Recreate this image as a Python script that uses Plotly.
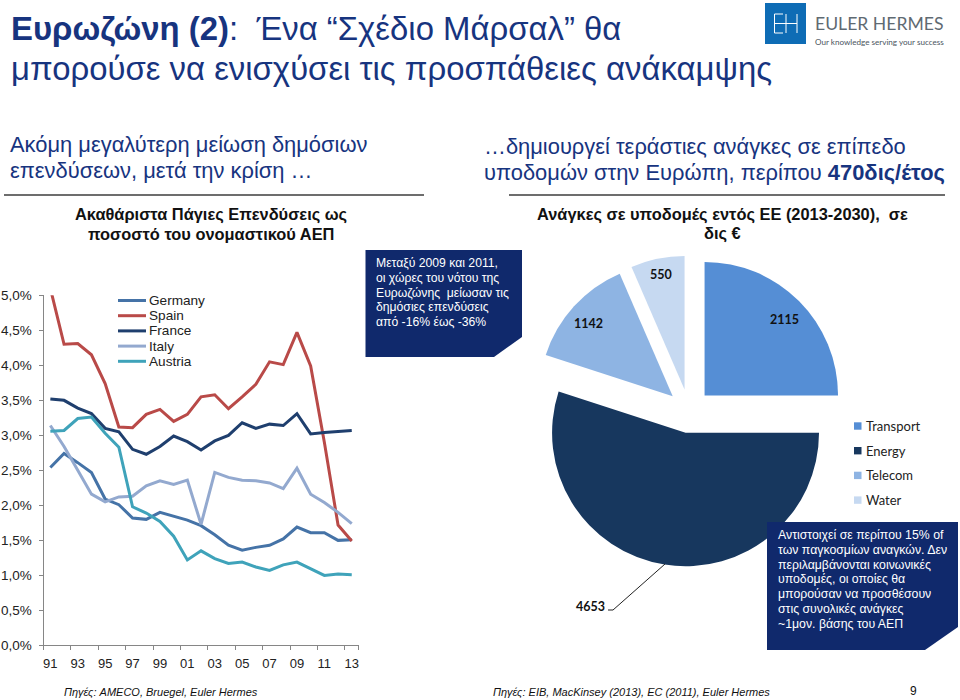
import plotly.graph_objects as go

# gross fixed investment, % of GDP
years = list(range(1991, 2014))
germany = [2.54, 2.74, 2.61, 2.47, 2.09, 2.01, 1.82, 1.80, 1.90, 1.85, 1.79, 1.71, 1.58, 1.43, 1.36, 1.40, 1.43, 1.52, 1.69, 1.61, 1.61, 1.50, 1.51]
spain = [5.10, 4.30, 4.31, 4.15, 3.74, 3.12, 3.11, 3.30, 3.37, 3.20, 3.30, 3.55, 3.58, 3.38, 3.55, 3.73, 4.05, 4.01, 4.47, 3.99, 2.90, 1.72, 1.49]
france = [3.52, 3.50, 3.39, 3.31, 3.10, 3.05, 2.80, 2.73, 2.84, 2.99, 2.91, 2.79, 2.92, 3.00, 3.18, 3.10, 3.16, 3.14, 3.31, 3.02, 3.04, 3.06, 3.07]
italy = [3.14, 2.84, 2.50, 2.16, 2.05, 2.12, 2.13, 2.28, 2.35, 2.30, 2.36, 1.73, 2.47, 2.40, 2.36, 2.35, 2.32, 2.24, 2.53, 2.16, 2.04, 1.90, 1.74]
austria = [3.06, 3.07, 3.24, 3.26, 3.03, 2.83, 1.98, 1.89, 1.77, 1.56, 1.22, 1.35, 1.24, 1.17, 1.19, 1.12, 1.07, 1.15, 1.19, 1.10, 1.00, 1.02, 1.01]
line_names = ["Germany", "Spain", "France", "Italy", "Austria"]
line_colors = ["#4573A7", "#B94A48", "#1F3F6E", "#93A9CF", "#3FA3BA"]

y_ticks = [0, 0.5, 1, 1.5, 2, 2.5, 3, 3.5, 4, 4.5, 5]
y_labels = ["0,0%", "0,5%", "1,0%", "1,5%", "2,0%", "2,5%", "3,0%", "3,5%", "4,0%", "4,5%", "5,0%"]
x_labels = ["91", "93", "95", "97", "99", "01", "03", "05", "07", "09", "11", "13"]

# infrastructure needs, bn euro
pie_names = ["Transport", "Energy", "Telecom", "Water"]
pie_values = [2115, 4653, 1142, 550]
pie_colors = ["#558ED5", "#17375E", "#8EB4E3", "#C6D9F1"]

ARIAL = "Liberation Sans"
NAVY = "#10296C"
TITLE_BLUE = "#17347F"


def px(x):
    return x / 960


def py(y):
    return 1 - y / 700


def text(s, x, y, size, color="#111111", anchor="left", family=ARIAL):
    return dict(text=s, x=px(x), y=py(y), xref="paper", yref="paper", showarrow=False,
                xanchor=anchor, yanchor="middle", borderpad=0,
                font=dict(size=size, color=color, family=family))


def poly(points, color):
    path = "M " + " L ".join(f"{px(a):.5f} {py(b):.5f}" for a, b in points) + " Z"
    return dict(type="path", path=path, xref="paper", yref="paper",
                fillcolor=color, line=dict(width=0), layer="above")


def seg(x0, y0, x1, y1, color, width):
    return dict(type="line", x0=px(x0), y0=py(y0), x1=px(x1), y1=py(y1), xref="paper", yref="paper",
                line=dict(color=color, width=width), layer="above")


fig = go.Figure()
for name, vals, color in zip(line_names, [germany, spain, france, italy, austria], line_colors):
    fig.add_trace(go.Scatter(x=years, y=vals, name=name, mode="lines",
                             line=dict(color=color, width=3), showlegend=False))

fig.add_trace(go.Pie(labels=pie_names, values=pie_values, sort=False, direction="clockwise", rotation=0,
                     marker=dict(colors=pie_colors, line=dict(width=0)), pull=[0.165] * 4,
                     textinfo="none", showlegend=False,
                     domain=dict(x=[px(533.5), px(844.5)], y=[py(566.5), py(255.5)])))

notes = [
    text("<b>Ευρωζώνη (2)</b>:  Ένα “Σχέδιο Μάρσαλ” θα", 10, 28.5, 32.9, TITLE_BLUE),
    text("μπορούσε να ενισχύσει τις προσπάθειες ανάκαμψης", 10, 69, 32.9, TITLE_BLUE),
    text("Ακόμη μεγαλύτερη μείωση δημόσιων", 9, 144, 21.9, TITLE_BLUE),
    text("επενδύσεων, μετά την κρίση …", 9, 171, 21.9, TITLE_BLUE),
    text("…δημιουργεί τεράστιες ανάγκες σε επίπεδο", 483, 146, 21.9, TITLE_BLUE),
    text("υποδομών στην Ευρώπη, περίπου <b>470δις/έτος</b>", 483, 173, 21.9, TITLE_BLUE),
    text("<b>Ακαθάριστα Πάγιες Επενδύσεις ως</b>", 211, 214, 16.4, anchor="center"),
    text("<b>ποσοστό του ονομαστικού ΑΕΠ</b>", 211, 234, 16.4, anchor="center"),
    text("<b>Ανάγκες σε υποδομές εντός ΕΕ (2013-2030),  σε</b>", 722, 214, 16.4, anchor="center"),
    text("<b>δις €</b>", 722, 233, 16.4, anchor="center"),
    text("<i>Πηγές: AMECO, Bruegel, Euler Hermes</i>", 63, 692, 11),
    text("<i>Πηγές: EIB, MacKinsey (2013), EC (2011), Euler Hermes</i>", 492, 692, 11),
    text("9", 913.5, 691, 12, anchor="center"),
    text("EULER HERMES", 814, 24, 17.6, "#5F6A72", family="Lato"),
    text("Our knowledge serving your success", 814, 42, 8.1, "#4A5560", family="Lato"),
]

box_left = ["Μεταξύ 2009 και 2011,", "οι χώρες του νότου της", "Ευρωζώνης  μείωσαν τις",
            "δημόσιες επενδύσεις", "από -16% έως -36%"]
for i, s in enumerate(box_left):
    notes.append(text(s, 375, 263 + 14.8 * i, 12.2, "white"))

box_right = ["Αντιστοιχεί σε περίπου 15% of", "των παγκοσμίων αναγκών. Δεν", "περιλαμβάνονται κοινωνικές",
             "υποδομές, οι οποίες θα", "μπορούσαν να προσθέσουν", "στις συνολικές ανάγκες", "~1μον. βάσης του ΑΕΠ"]
for i, s in enumerate(box_right):
    notes.append(text(s, 776.5, 535 + 14.8 * i, 12.3, "white"))

shapes = [
    seg(4, 195, 424, 195, "#6D6D6D", 2),
    seg(509, 195, 945, 195, "#6D6D6D", 2),
    poly([(365.5, 250), (522, 250), (522, 337), (494, 357), (365.5, 357)], NAVY),
    poly([(767, 522), (958, 522), (958, 627), (925, 650), (767, 650)], NAVY),
    # logo
    poly([(765, 3), (806, 3), (806, 44), (765, 44)], "#0E6CB5"),
    seg(774.5, 14, 774.5, 33, "white", 1), seg(774.5, 14, 783, 14, "white", 1),
    seg(774.5, 33, 783, 33, "white", 1), seg(774.5, 23.5, 797, 23.5, "white", 1),
    seg(786, 14, 786, 33, "white", 1), seg(797, 14, 797, 33, "white", 1),
    # leader for the energy label
    dict(type="path", path=f"M {px(665)} {py(564)} L {px(613)} {py(610)} L {px(608)} {py(610)}",
         xref="paper", yref="paper", line=dict(color="#222222", width=1), layer="above"),
]

# line legend
for i, (name, color) in enumerate(zip(line_names, line_colors)):
    y = 300.5 + 15.2 * i
    shapes.append(seg(118, y, 146, y, color, 3))
    notes.append(text(name, 147.5, y, 13.6, "#222222"))

# pie legend
for i, (name, color) in enumerate(zip(pie_names, pie_colors)):
    y = 426 + 24.7 * i
    shapes.append(poly([(854, y - 3.7), (861.5, y - 3.7), (861.5, y + 3.7), (854, y + 3.7)], color))
    notes.append(text(name, 865, y, 13, "#222222", family="Lato"))

# pie value labels
label_pos = [(784, 320), (590, 606), (588.5, 323), (661, 275)]
for v, (lx, ly) in zip(pie_values, label_pos):
    notes.append(text(f"<b>{v}</b>", lx, ly, 12.5, "#111111", anchor="center", family="Lato"))

boundaries = [y - 0.5 for y in years[::2]] + [years[-1] + 0.5]

fig.update_layout(
    width=960, height=700, margin=dict(l=0, r=0, t=0, b=0, autoexpand=False),
    paper_bgcolor="white", plot_bgcolor="white",
    xaxis=dict(domain=[px(43.5), px(358.6)], range=[1990.5, 2013.5], tickmode="array",
               tickvals=years[::2], ticktext=x_labels, ticks="", showline=True, linecolor="#868686",
               showgrid=False, zeroline=False, ticklabelstandoff=6,
               tickfont=dict(family=ARIAL, size=13, color="#222222"),
               minor=dict(tickmode="array", tickvals=boundaries, ticks="outside", ticklen=4,
                          tickcolor="#868686", showgrid=False)),
    yaxis=dict(domain=[py(645.4), py(295.3)], range=[0, 5], tickmode="array",
               tickvals=y_ticks, ticktext=y_labels, ticks="outside", ticklen=4, tickcolor="#868686",
               showline=True, linecolor="#868686", showgrid=False, zeroline=False, ticklabelstandoff=4,
               tickfont=dict(family=ARIAL, size=13.5, color="#222222")),
    shapes=shapes, annotations=notes, showlegend=False,
)

# the page's default body margin would shift the whole slide
fig.write_html("out.html", config={"displayModeBar": False}, post_script="document.body.style.margin='0';")
